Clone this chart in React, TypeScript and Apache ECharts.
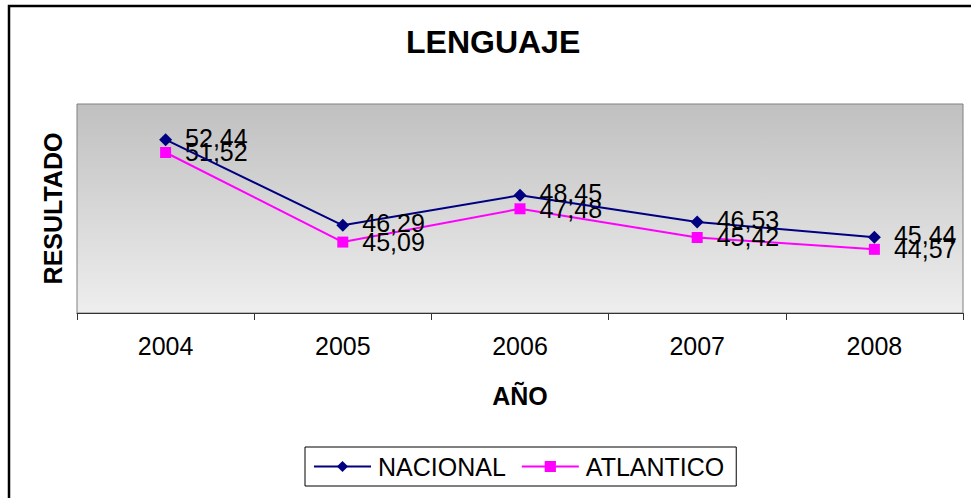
import React, { useEffect, useRef } from "react";
import * as echarts from "echarts";

const years = ["2004", "2005", "2006", "2007", "2008"];
const nacional = [52.44, 46.29, 48.45, 46.53, 45.44];
const atlantico = [51.52, 45.09, 47.48, 45.42, 44.57];
const seriesNames = ["NACIONAL", "ATLANTICO"];
const titleText = "LENGUAJE";
const xName = "AÑO";
const yName = "RESULTADO";

const FONT = "'Liberation Sans', Arial, sans-serif";
const fmt = (v: number) => v.toFixed(2).replace(".", ",");

export default function App() {
  const ref = useRef<HTMLDivElement>(null);
  useEffect(() => {
    if (!ref.current) return;
    const chart = echarts.init(ref.current, null, { renderer: "svg" });
    chart.setOption({
      animation: false,
      backgroundColor: "#ffffff",
      textStyle: { fontFamily: FONT },
      title: {
        text: titleText,
        left: 406,
        top: 26,
        padding: 0,
        textStyle: { fontFamily: FONT, fontSize: 32, fontWeight: "bold", color: "#000" },
      },
      graphic: [
        {
          type: "rect",
          shape: { x: 9, y: 6, width: 1200, height: 800 },
          style: { fill: "none", stroke: "#000", lineWidth: 2.5 },
          silent: true,
          z: 100,
        },
      ],
      grid: {
        left: 77,
        right: 8,
        top: 104,
        bottom: 185,
        show: true,
        borderColor: "#808080",
        borderWidth: 1,
        backgroundColor: new echarts.graphic.LinearGradient(0, 0, 0, 1, [
          { offset: 0, color: "#c0c0c0" },
          { offset: 1, color: "#eeeeee" },
        ]),
      },
      legend: {
        data: seriesNames,
        left: 305,
        top: 447,
        orient: "horizontal",
        itemWidth: 57,
        itemHeight: 14,
        itemGap: 15,
        padding: [7, 12, 7, 8],
        borderColor: "#000",
        borderWidth: 1,
        backgroundColor: "#fff",
        textStyle: { fontFamily: FONT, fontSize: 25, color: "#000", padding: [0, 0, 0, 2] },
      },
      xAxis: {
        type: "category",
        data: years,
        boundaryGap: true,
        name: xName,
        nameLocation: "middle",
        nameGap: 70,
        nameTextStyle: { fontFamily: FONT, fontSize: 25, fontWeight: "bold", color: "#000" },
        axisLine: { show: true, lineStyle: { color: "#333", width: 1 } },
        axisTick: { show: true, length: 7, lineStyle: { color: "#333" } },
        axisLabel: { fontFamily: FONT, fontSize: 25, color: "#000", margin: 20 },
        splitLine: { show: false },
      },
      yAxis: {
        type: "value",
        min: 40,
        max: 55,
        name: yName,
        nameLocation: "middle",
        nameGap: 12,
        nameRotate: 90,
        nameTextStyle: { fontFamily: FONT, fontSize: 25, fontWeight: "bold", color: "#000" },
        axisLine: { show: false },
        axisTick: { show: false },
        axisLabel: { show: false },
        splitLine: { show: false },
      },
      series: [
        {
          name: seriesNames[0],
          type: "line",
          data: nacional,
          symbol: "diamond",
          symbolSize: 13,
          lineStyle: { color: "#000080", width: 2 },
          itemStyle: { color: "#000080" },
          label: {
            show: true,
            position: "right",
            distance: 13,
            offset: [0, -2],
            formatter: (p: any) => fmt(p.value),
            fontFamily: FONT,
            fontSize: 25,
            color: "#000",
          },
          z: 3,
        },
        {
          name: seriesNames[1],
          type: "line",
          data: atlantico,
          symbol: "rect",
          symbolSize: 11,
          lineStyle: { color: "#ff00ff", width: 2 },
          itemStyle: { color: "#ff00ff" },
          label: {
            show: true,
            position: "right",
            distance: 14,
            formatter: (p: any) => fmt(p.value),
            fontFamily: FONT,
            fontSize: 25,
            color: "#000",
          },
          z: 2,
        },
      ],
    });
    return () => chart.dispose();
  }, []);
  return (
    <div
      ref={ref}
      style={{ position: "absolute", left: 0, top: 0, width: 971, height: 498 }}
    />
  );
}
